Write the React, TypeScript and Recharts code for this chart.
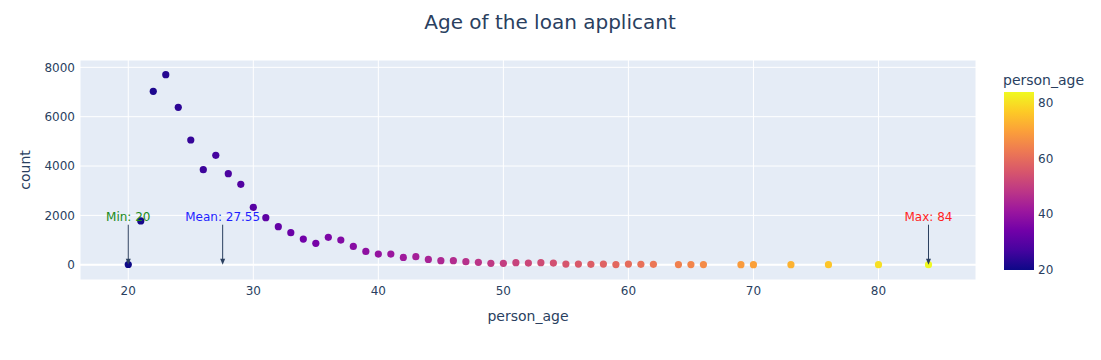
import React from "react";
import {
  ScatterChart,
  Scatter,
  XAxis,
  YAxis,
  CartesianGrid,
  ReferenceDot,
  ReferenceLine,
} from "recharts";

const ages = [
  20, 21, 22, 23, 24, 25, 26, 27, 28, 29, 30, 31, 32, 33, 34, 35, 36, 37, 38, 39,
  40, 41, 42, 43, 44, 45, 46, 47, 48, 49, 50, 51, 52, 53, 54, 55, 56, 57, 58, 59,
  60, 61, 62, 64, 65, 66, 69, 70, 73, 76, 80, 84,
];
const counts = [
  8, 1775, 7030, 7702, 6380, 5055, 3851, 4435, 3690, 3258, 2325, 1906, 1541, 1298, 1040, 865, 1108, 1000, 743, 540,
  432, 432, 297, 324, 216, 162, 162, 122, 95, 54, 54, 81, 68, 81, 68, 27, 27, 14, 27, 5,
  27, 14, 14, 5, 5, 5, 3, 3, 2, 1, 1, 1,
];
const xTicks = [20, 30, 40, 50, 60, 70, 80];
const yTicks = [0, 2000, 4000, 6000, 8000];
const colorTicks = [20, 40, 60, 80];
const annotationLabels = ["Min: 20", "Mean: 27.55", "Max: 84"];
const annotationX = [20, 27.55, 84];
const annotationColors = ["#1a8a1a", "#1f1fff", "#ff1f1f"];

const plasma = [
  "#0d0887", "#46039f", "#7201a8", "#9c179e", "#bd3786",
  "#d8576b", "#ed7953", "#fb9f3a", "#fdca26", "#f0f921",
];
const cMin = 20;
const cMax = 84;

function hexToRgb(h: string) {
  return [parseInt(h.slice(1, 3), 16), parseInt(h.slice(3, 5), 16), parseInt(h.slice(5, 7), 16)];
}
function colorFor(v: number) {
  const t = Math.max(0, Math.min(1, (v - cMin) / (cMax - cMin)));
  const p = t * (plasma.length - 1);
  const i = Math.min(plasma.length - 2, Math.floor(p));
  const f = p - i;
  const a = hexToRgb(plasma[i]);
  const b = hexToRgb(plasma[i + 1]);
  const c = a.map((x, k) => Math.round(x + (b[k] - x) * f));
  return `rgb(${c[0]},${c[1]},${c[2]})`;
}

const FONT = "Verdana, 'DejaVu Sans', sans-serif";
const TEXT = "#2a3f5f";

const data = ages.map((a, i) => ({ age: a, count: counts[i] }));

const Dot = (props: any) => {
  const { cx, cy, payload } = props;
  if (cx == null || cy == null) return null;
  return <circle cx={cx} cy={cy} r={3.6} fill={colorFor(payload.age)} />;
};

const makeArrow = (label: string, color: string) => (props: any) => {
  const { cx, cy } = props;
  if (cx == null || cy == null) return null;
  return (
    <g>
      <line x1={cx} y1={cy - 40} x2={cx} y2={cy - 5} stroke={TEXT} strokeWidth={1} />
      <path d={`M${cx - 2.5},${cy - 6} L${cx + 2.5},${cy - 6} L${cx},${cy} Z`} fill={TEXT} />
      <text
        x={cx}
        y={cy - 44}
        textAnchor="middle"
        fill={color}
        fontSize={12}
        fontFamily={FONT}
      >
        {label}
      </text>
    </g>
  );
};

// colorbar geometry
const cbX = 1004;
const cbW = 30;
const cbTop = 92;
const cbBottom = 270;
const cbY = (v: number) => cbBottom - ((v - cMin) / (cMax - cMin)) * (cbBottom - cbTop);

export default function App() {
  return (
    <div style={{ position: "absolute", left: 0, top: 0, width: 1101, height: 360, background: "#fff", fontFamily: FONT }}>
      <ScatterChart
        width={1101}
        height={360}
        margin={{ top: 60, right: 125, bottom: 50, left: 20 }}
        style={{ fontFamily: FONT }}
      >
        <CartesianGrid fill="#e5ecf6" stroke="#ffffff" strokeWidth={1} />
        <XAxis
          type="number"
          dataKey="age"
          domain={[16.14, 87.8]}
          allowDataOverflow
          ticks={xTicks}
          axisLine={false}
          tickLine={false}
          tickSize={0}
          tickMargin={6}
          height={30}
          tick={{ fill: TEXT, fontSize: 12, fontFamily: FONT }}
        />
        <YAxis
          type="number"
          dataKey="count"
          domain={[-620, 8298]}
          allowDataOverflow
          ticks={yTicks}
          axisLine={false}
          tickLine={false}
          tickSize={0}
          tickMargin={5}
          width={60}
          tick={{ fill: TEXT, fontSize: 12, fontFamily: FONT }}
        />
        <ReferenceLine y={0} stroke="#ffffff" strokeWidth={2} />
        <Scatter data={data} shape={Dot} isAnimationActive={false} />
        {annotationLabels.map((lab, i) => (
          <ReferenceDot
            key={lab}
            x={annotationX[i]}
            y={0}
            r={0}
            shape={makeArrow(lab, annotationColors[i])}
          />
        ))}
      </ScatterChart>
      <svg
        width={1101}
        height={360}
        style={{ position: "absolute", left: 0, top: 0, pointerEvents: "none" }}
      >
        <defs>
          <linearGradient id="plasmaGrad" x1="0" y1="1" x2="0" y2="0">
            {plasma.map((c, i) => (
              <stop key={i} offset={`${(i / (plasma.length - 1)) * 100}%`} stopColor={c} />
            ))}
          </linearGradient>
        </defs>
        <text x={550} y={29} textAnchor="middle" fill={TEXT} fontSize={20} fontFamily={FONT}>
          Age of the loan applicant
        </text>
        <text x={528} y={321} textAnchor="middle" fill={TEXT} fontSize={14} fontFamily={FONT}>
          person_age
        </text>
        <text
          x={0}
          y={0}
          transform="translate(30,170) rotate(-90)"
          textAnchor="middle"
          fill={TEXT}
          fontSize={14}
          fontFamily={FONT}
        >
          count
        </text>
        <text x={1003} y={85} fill={TEXT} fontSize={14} fontFamily={FONT}>
          person_age
        </text>
        <rect x={cbX} y={cbTop} width={cbW} height={cbBottom - cbTop} fill="url(#plasmaGrad)" />
        {colorTicks.map((t) => (
          <text
            key={t}
            x={cbX + cbW + 4}
            y={cbY(t) + 4}
            fill={TEXT}
            fontSize={12}
            fontFamily={FONT}
          >
            {t}
          </text>
        ))}
      </svg>
    </div>
  );
}
